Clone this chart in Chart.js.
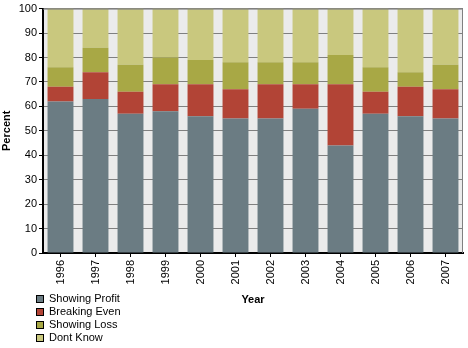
<!DOCTYPE html>
<html>
<head>
<meta charset="utf-8">
<script src="https://cdn.jsdelivr.net/npm/chart.js@4"></script>
<style>
  html, body { margin: 0; padding: 0; background: #fff; }
  #wrap { position: relative; width: 468px; height: 348px; }
  #legend { position: absolute; left: 36px; top: 292px; font: 11px "Liberation Sans", Arial, sans-serif; color: #000; }
  #legend div { height: 13px; line-height: 13px; white-space: nowrap; }
  #legend span { display: inline-block; width: 6px; height: 6px; border: 1px solid #000; margin-right: 5px; vertical-align: -1px; }
</style>
</head>
<body>
<div id="wrap">
  <canvas id="chart" width="468" height="348"></canvas>
  <div id="legend"></div>
</div>
<script>
// Survey results by year, percent of respondents
const years = ['1996', '1997', '1998', '1999', '2000', '2001', '2002', '2003', '2004', '2005', '2006', '2007'];
const showingProfit = [62, 63, 57, 58, 56, 55, 55, 59, 44, 57, 56, 55];
const breakingEven  = [6, 11, 9, 11, 13, 12, 14, 10, 25, 9, 12, 12];
const showingLoss   = [8, 10, 11, 11, 10, 11, 9, 9, 12, 10, 6, 10];
const dontKnow      = [24, 16, 23, 20, 21, 22, 22, 22, 19, 24, 26, 23];

const seriesNames = ['Showing Profit', 'Breaking Even', 'Showing Loss', 'Dont Know'];
const seriesColors = ['#6b7c83', '#b24436', '#a8a845', '#c9c87e'];
const seriesValues = [showingProfit, breakingEven, showingLoss, dontKnow];

const FONT = '"Liberation Sans", Arial, sans-serif';

// plot background and grey top/right frame
const plotFrame = {
  id: 'plotFrame',
  beforeDraw(chart) {
    const { ctx, chartArea: a } = chart;
    ctx.save();
    ctx.fillStyle = '#ebebeb';
    ctx.fillRect(a.left, a.top, a.right - a.left, a.bottom - a.top);
    ctx.restore();
  },
  afterDatasetsDraw(chart) {
    const { ctx, chartArea: a } = chart;
    ctx.save();
    ctx.strokeStyle = '#808080';
    ctx.lineWidth = 1;
    ctx.beginPath();
    ctx.moveTo(a.left, a.top + 0.5);
    ctx.lineTo(a.right - 0.5, a.top + 0.5);
    ctx.lineTo(a.right - 0.5, a.bottom);
    ctx.stroke();
    ctx.restore();
  }
};

const chart = new Chart(document.getElementById('chart'), {
  type: 'bar',
  data: {
    labels: years,
    datasets: seriesNames.map((name, i) => ({
      label: name,
      data: seriesValues[i],
      backgroundColor: seriesColors[i],
      borderWidth: 0,
      categoryPercentage: 0.74,
      barPercentage: 1
    }))
  },
  options: {
    responsive: false,
    animation: false,
    layout: { padding: { top: 4, right: 5, bottom: 41, left: 0 } },
    plugins: {
      legend: { display: false },
      tooltip: { enabled: false }
    },
    scales: {
      x: {
        stacked: true,
        afterFit(scale) { scale.height = 54; },
        grid: { display: true, drawOnChartArea: false, offset: false, tickLength: 4, tickColor: '#000' },
        border: { color: '#000', width: 2 },
        ticks: { color: '#000', font: { family: FONT, size: 11 }, minRotation: 90, maxRotation: 90, padding: 3 },
        title: { display: true, text: 'Year', color: '#000', font: { family: FONT, size: 11, weight: 'bold' }, padding: 0 }
      },
      y: {
        stacked: true,
        min: 0,
        max: 100,
        afterFit(scale) { scale.width = 43; },
        grid: { color: '#808080', tickLength: 4, tickColor: '#000' },
        border: { color: '#000', width: 2 },
        ticks: { stepSize: 10, color: '#000', font: { family: FONT, size: 11 }, padding: 2 },
        title: { display: true, text: 'Percent', color: '#000', font: { family: FONT, size: 11, weight: 'bold' }, padding: 0 }
      }
    }
  },
  plugins: [plotFrame]
});

// vertical legend under the plot
const legendEl = document.getElementById('legend');
chart.data.datasets.forEach(ds => {
  const row = document.createElement('div');
  const box = document.createElement('span');
  box.style.background = ds.backgroundColor;
  row.appendChild(box);
  row.appendChild(document.createTextNode(ds.label));
  legendEl.appendChild(row);
});
</script>
</body>
</html>
